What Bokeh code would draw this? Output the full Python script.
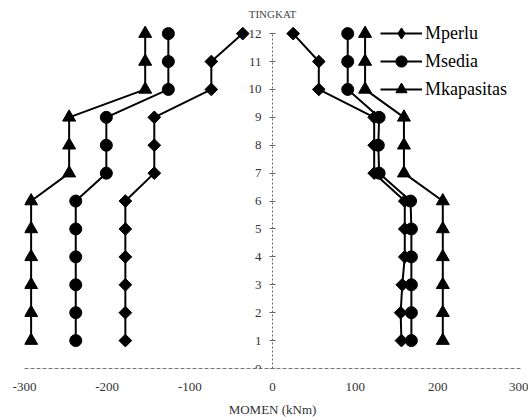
import math
from bokeh.plotting import figure
from bokeh.models import Legend, LegendItem, Label, FixedTicker, Range1d
from bokeh.embed import file_html
from bokeh.resources import INLINE

# ---- data ----
levels = [1, 2, 3, 4, 5, 6, 7, 8, 9, 10, 11, 12]
mperlu_neg = [-178, -178, -178, -178, -178, -178, -143, -143, -143, -74, -74, -36]
msedia_neg = [-238, -238, -238, -238, -238, -238, -201, -201, -201, -126, -126, -126]
mkap_neg = [-292, -292, -292, -292, -292, -292, -246, -246, -246, -154, -154, -154]
mperlu_pos = [156, 155, 157, 160, 160, 160, 123, 123, 123, 56, 56, 25]
msedia_pos = [168, 168, 168, 168, 168, 167, 129, 128, 129, 91, 91, 91]
mkap_pos = [206, 206, 206, 206, 206, 206, 159, 159, 159, 112, 112, 112]
series_names = ["Mperlu", "Msedia", "Mkapasitas"]
x_ticks = [-300, -200, -100, 0, 100, 200, 300]
y_ticks = [0, 1, 2, 3, 4, 5, 6, 7, 8, 9, 10, 11, 12]
y_title = "TINGKAT"
x_title = "MOMEN (kNm)"

FONT = "'Liberation Serif', 'Times New Roman', 'DejaVu Serif', serif"

p = figure(width=528, height=420,
           x_range=Range1d(-300, 300), y_range=Range1d(0, 12.9),
           output_backend="svg", toolbar_location=None,
           min_border_left=24, min_border_right=8,
           min_border_top=8, min_border_bottom=52)
p.outline_line_color = None
p.xgrid.visible = False
p.ygrid.visible = False
p.background_fill_color = "white"

# y axis at x = 0
yax = p.yaxis[0]
yax.fixed_location = 0
yax.bounds = (0, 12)
yax.ticker = FixedTicker(ticks=y_ticks)
yax.minor_tick_line_color = None
yax.axis_line_color = "#666666"
yax.axis_line_dash = "2 2"
yax.axis_line_width = 1
yax.major_tick_line_color = "#666666"
yax.major_tick_in = 3
yax.major_tick_out = 3
yax.major_label_standoff = 8
yax.major_label_text_font = FONT
yax.major_label_text_font_size = "13px"
yax.major_label_text_color = "#333333"

# x axis
xax = p.xaxis[0]
xax.ticker = FixedTicker(ticks=x_ticks)
xax.major_label_overrides = {t: str(t) for t in x_ticks}
xax.minor_tick_line_color = None
xax.axis_line_color = "#777777"
xax.axis_line_dash = "4 2"
xax.major_tick_line_color = None
xax.major_tick_out = 0
xax.major_tick_in = 0
xax.major_label_standoff = 14
xax.major_label_text_font = FONT
xax.major_label_text_font_size = "13px"
xax.major_label_text_color = "#333333"
xax.axis_label = x_title
xax.axis_label_standoff = 8
xax.axis_label_text_font = FONT
xax.axis_label_text_font_style = "normal"
xax.axis_label_text_font_size = "13px"
xax.axis_label_text_color = "#333333"

p.add_layout(Label(x=0, y=12.69, x_units="data", y_units="data", text=y_title,
                   text_align="center", text_baseline="middle",
                   text_font=FONT, text_font_size="11px", text_color="#444444"))

markers = [("square", 9, math.pi / 4), ("circle", 12, 0.0), ("triangle", 13, 0.0)]
legend_markers = [("diamond", 15), ("circle", 12), ("triangle", 13)]
neg = [mperlu_neg, msedia_neg, mkap_neg]
pos = [mperlu_pos, msedia_pos, mkap_pos]
nan = float("nan")
items = []
for name, (mk, sz, ang), (lmk, lsz), xn, xp in zip(series_names, markers, legend_markers, neg, pos):
    first_line = None
    for xs in (xn, xp):
        ln = p.line(xs, levels, line_color="black", line_width=2)
        p.scatter(xs, levels, marker=mk, size=sz, angle=ang,
                  fill_color="black", line_color="black")
        if first_line is None:
            first_line = ln
    # legend-only key marker (a single NaN point, never drawn in the plot)
    key = p.scatter(x=[nan], y=[nan], marker=lmk, size=lsz,
                    fill_color="black", line_color="black")
    items.append(LegendItem(label=name, renderers=[first_line, key]))

legend = Legend(items=items, location=(356, 265),
                glyph_width=42, glyph_height=28, label_height=28,
                spacing=0, padding=0, margin=0, label_standoff=3,
                label_text_font=FONT, label_text_font_size="18px",
                label_text_color="black",
                border_line_color=None, background_fill_alpha=0)
p.add_layout(legend)

open("out.html", "w").write(file_html(p, INLINE))
